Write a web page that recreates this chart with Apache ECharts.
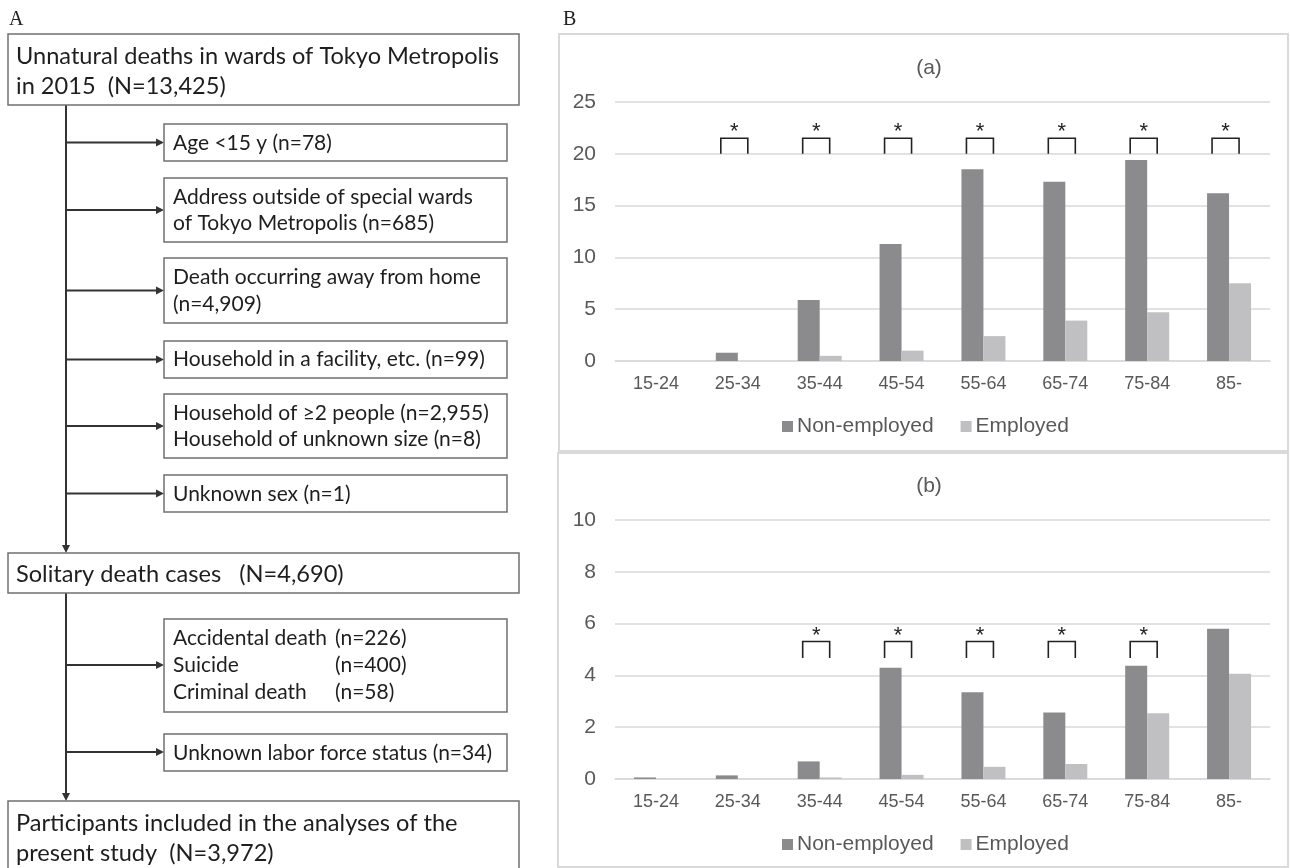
<!DOCTYPE html>
<html>
<head>
<meta charset="utf-8">
<script src="https://cdn.jsdelivr.net/npm/echarts@6/dist/echarts.min.js"></script>
<style>
    html, body { margin: 0; padding: 0; background: #fff; }
    #main { width: 1290px; height: 868px; }
</style>
</head>
<body>
<div id="main"></div>
<script>
// ---- chart data (panel B) ----
const ageGroups = ["15-24", "25-34", "35-44", "45-54", "55-64", "65-74", "75-84", "85-"];

const nonEmployedA = [0, 0.8, 5.9, 11.3, 18.5, 17.3, 19.4, 16.2];
const employedA    = [0, 0, 0.5, 1.0, 2.4, 3.9, 4.7, 7.5];

const nonEmployedB = [0.06, 0.14, 0.68, 4.3, 3.35, 2.57, 4.37, 5.8];
const employedB    = [0, 0, 0.06, 0.16, 0.47, 0.58, 2.54, 4.06];

// groups marked with * and the bracket levels (bottom, top, star) in axis units
const sigA = ["25-34", "35-44", "45-54", "55-64", "65-74", "75-84", "85-"];
const sigB = ["35-44", "45-54", "55-64", "65-74", "75-84"];
const bracketA = [20, 21.5, 22.6];
const bracketB = [4.67, 5.31, 5.73];

// ---- flowchart text (panel A) ----
const topBoxLines = ["Unnatural deaths in wards of Tokyo Metropolis", "in 2015  (N=13,425)"];
const firstExclusions = [
    ["Age <15 y (n=78)"],
    ["Address outside of special wards", "of Tokyo Metropolis (n=685)"],
    ["Death occurring away from home", "(n=4,909)"],
    ["Household in a facility, etc. (n=99)"],
    ["Household of \u22652 people (n=2,955)", "Household of unknown size (n=8)"],
    ["Unknown sex (n=1)"]
];
const solitaryLines = ["Solitary death cases   (N=4,690)"];
const causeLabels = ["Accidental death", "Suicide", "Criminal death"];
const causeCounts = ["(n=226)", "(n=400)", "(n=58)"];
const labourLines = ["Unknown labor force status (n=34)"];
const finalLines = ["Participants included in the analyses of the", "present study  (N=3,972)"];

// ---- flowchart layout ----
const LINE_X = 66;
const BIG_X = 8, BIG_W = 511;
const SMALL_X = 164, SMALL_W = 343;
const FLOW_FONT = "Lato";
const BIG_SIZE = 23.6;
const SMALL_SIZE = 21;

// [top, bottom, line y's]
const firstLayout = [
    [124, 161, [143]],
    [178, 242, [197, 223]],
    [258, 323, [277, 304]],
    [341, 378, [359]],
    [394, 458, [413, 439]],
    [475, 512, [494]]
];

function rectBox(x, y, w, h) {
    return {
        type: "rect",
        shape: { x: x, y: y, width: w, height: h },
        style: { fill: "#fff", stroke: "#707070", lineWidth: 1.5 }
    };
}

function textLine(x, y, str, size) {
    return {
        type: "text",
        x: x,
        y: y,
        style: {
            text: str,
            fill: "#1e1e1e",
            font: size + "px " + FLOW_FONT,
            verticalAlign: "middle"
        }
    };
}

function hArrow(y) {
    return [
        {
            type: "line",
            shape: { x1: LINE_X, y1: y, x2: SMALL_X - 6, y2: y },
            style: { stroke: "#333", lineWidth: 2 }
        },
        {
            type: "polygon",
            shape: { points: [[SMALL_X - 8, y - 4], [SMALL_X, y], [SMALL_X - 8, y + 4]] },
            style: { fill: "#333" }
        }
    ];
}

function vArrow(y1, y2) {
    return [
        {
            type: "line",
            shape: { x1: LINE_X, y1: y1, x2: LINE_X, y2: y2 - 6 },
            style: { stroke: "#333", lineWidth: 2 }
        },
        {
            type: "polygon",
            shape: { points: [[LINE_X - 4, y2 - 8], [LINE_X, y2], [LINE_X + 4, y2 - 8]] },
            style: { fill: "#333" }
        }
    ];
}

function buildFlow() {
    let g = [];

    g.push({
        type: "text", x: 9, y: 20,
        style: { text: "A", fill: "#222", font: "20px 'Liberation Serif'", verticalAlign: "middle" }
    });
    g.push({
        type: "text", x: 563, y: 20,
        style: { text: "B", fill: "#222", font: "20px 'Liberation Serif'", verticalAlign: "middle" }
    });

    g = g.concat(vArrow(105, 553));
    g = g.concat(vArrow(593, 801));

    g.push(rectBox(BIG_X, 34, BIG_W, 71));
    g.push(textLine(16, 56, topBoxLines[0], BIG_SIZE));
    g.push(textLine(16, 86, topBoxLines[1], BIG_SIZE));

    firstExclusions.forEach((lines, i) => {
        const lay = firstLayout[i];
        g = g.concat(hArrow((lay[0] + lay[1]) / 2));
        g.push(rectBox(SMALL_X, lay[0], SMALL_W, lay[1] - lay[0]));
        lines.forEach((t, j) => g.push(textLine(173, lay[2][j], t, SMALL_SIZE)));
    });

    g.push(rectBox(BIG_X, 553, BIG_W, 40));
    g.push(textLine(16, 574, solitaryLines[0], BIG_SIZE));

    g = g.concat(hArrow(665));
    g.push(rectBox(SMALL_X, 619, SMALL_W, 93));
    const causeY = [638, 665, 692];
    causeLabels.forEach((t, j) => {
        g.push(textLine(173, causeY[j], t, SMALL_SIZE));
        g.push(textLine(335, causeY[j], causeCounts[j], SMALL_SIZE));
    });

    g = g.concat(hArrow(752));
    g.push(rectBox(SMALL_X, 734, SMALL_W, 37));
    g.push(textLine(173, 753, labourLines[0], SMALL_SIZE));

    g.push(rectBox(BIG_X, 801, BIG_W, 80));
    g.push(textLine(16, 823, finalLines[0], BIG_SIZE));
    g.push(textLine(16, 853, finalLines[1], BIG_SIZE));

    // frames of panel B
    g.push({
        type: "rect", z: -1,
        shape: { x: 559, y: 34, width: 729, height: 417 },
        style: { fill: "none", stroke: "#d9d9d9", lineWidth: 2 }
    });
    g.push({
        type: "rect", z: -1,
        shape: { x: 558, y: 453, width: 730, height: 414 },
        style: { fill: "none", stroke: "#d9d9d9", lineWidth: 2 }
    });

    return g;
}

// bracket with star drawn through the axis scale
function bracketItem(params, api) {
    const idx = api.value(0);
    const base = api.coord([idx, api.value(1)]);
    const top = api.coord([idx, api.value(2)]);
    const star = api.coord([idx, api.value(3)]);
    const l = base[0] - 17;
    const r = base[0] + 10;
    return {
        type: "group",
        children: [
            {
                type: "polyline",
                shape: { points: [[l, base[1]], [l, top[1]], [r, top[1]], [r, base[1]]] },
                style: { stroke: "#222", lineWidth: 1.6, fill: null }
            },
            {
                type: "text",
                x: (l + r) / 2,
                y: star[1] + 5,
                style: {
                    text: "*", fill: "#222", font: "22px Arial",
                    align: "center", verticalAlign: "middle"
                }
            }
        ]
    };
}

function bracketData(groups, levels) {
    return groups.map(g => [ageGroups.indexOf(g), levels[0], levels[1], levels[2]]);
}

const NON_COLOR = "#8b8b8e";
const EMP_COLOR = "#c0c0c3";
const LABEL_COLOR = "#595959";
const GRID_COLOR = "#d9d9d9";

function xAxisFor(gridIndex) {
    return {
        type: "category",
        gridIndex: gridIndex,
        data: ageGroups,
        axisTick: { show: false },
        axisLine: { lineStyle: { color: GRID_COLOR, width: 1.5 } },
        axisLabel: { color: LABEL_COLOR, fontSize: 18, fontFamily: "Arial", margin: 14 }
    };
}

function yAxisFor(gridIndex, max, interval) {
    return {
        type: "value",
        gridIndex: gridIndex,
        min: 0,
        max: max,
        interval: interval,
        axisLine: { show: false },
        axisTick: { show: false },
        splitLine: { lineStyle: { color: GRID_COLOR, width: 1.5 } },
        axisLabel: { color: LABEL_COLOR, fontSize: 21, fontFamily: "Arial", margin: 19 }
    };
}

function barSeries(name, data, color, idx) {
    return {
        name: name,
        type: "bar",
        xAxisIndex: idx,
        yAxisIndex: idx,
        data: data,
        barWidth: 22,
        barGap: "0%",
        itemStyle: { color: color },
        silent: true
    };
}

const chart = echarts.init(document.getElementById("main"));

chart.setOption({
    backgroundColor: "#fff",
    animation: false,
    title: [
        {
            text: "(a)", left: 924, top: 53, textAlign: "center",
            textStyle: { color: LABEL_COLOR, fontSize: 21, fontWeight: "normal", fontFamily: "Arial" }
        },
        {
            text: "(b)", left: 924, top: 471, textAlign: "center",
            textStyle: { color: LABEL_COLOR, fontSize: 21, fontWeight: "normal", fontFamily: "Arial" }
        }
    ],
    legend: [
        {
            data: ["Non-employed", "Employed"],
            left: 777, top: 411,
            icon: "rect", itemWidth: 11, itemHeight: 11, itemGap: 27,
            textStyle: { color: LABEL_COLOR, fontSize: 21, fontFamily: "Arial", padding: [0, 0, 0, -1] }
        },
        {
            data: ["Non-employed", "Employed"],
            left: 777, top: 829,
            icon: "rect", itemWidth: 11, itemHeight: 11, itemGap: 27,
            textStyle: { color: LABEL_COLOR, fontSize: 21, fontFamily: "Arial", padding: [0, 0, 0, -1] }
        }
    ],
    grid: [
        { left: 615, right: 20, top: 102, height: 259 },
        { left: 615, right: 20, top: 520, height: 259 }
    ],
    xAxis: [xAxisFor(0), xAxisFor(1)],
    yAxis: [yAxisFor(0, 25, 5), yAxisFor(1, 10, 2)],
    series: [
        barSeries("Non-employed", nonEmployedA, NON_COLOR, 0),
        barSeries("Employed", employedA, EMP_COLOR, 0),
        barSeries("Non-employed", nonEmployedB, NON_COLOR, 1),
        barSeries("Employed", employedB, EMP_COLOR, 1),
        {
            type: "custom",
            xAxisIndex: 0, yAxisIndex: 0,
            renderItem: bracketItem,
            data: bracketData(sigA, bracketA),
            silent: true, clip: false, z: 5
        },
        {
            type: "custom",
            xAxisIndex: 1, yAxisIndex: 1,
            renderItem: bracketItem,
            data: bracketData(sigB, bracketB),
            silent: true, clip: false, z: 5
        }
    ],
    graphic: buildFlow()
});
</script>
</body>
</html>
